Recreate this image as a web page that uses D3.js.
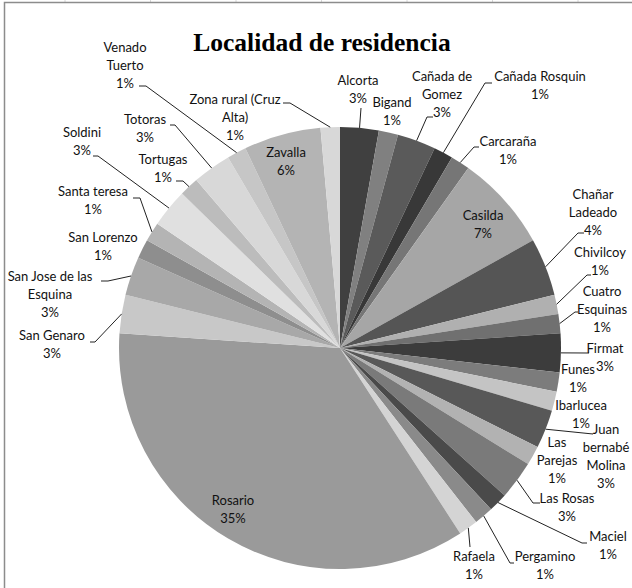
<!DOCTYPE html>
<html>
<head>
<meta charset="utf-8">
<script src="https://cdn.jsdelivr.net/npm/d3@7"></script>
<style>
  body { margin: 0; background: #fff; }
  svg { display: block; }
</style>
</head>
<body>
<svg id="chart"></svg>
<script>
// data
var localidades = ["Alcorta", "Bigand", "Cañada de Gomez", "Cañada Rosquin", "Carcaraña", "Casilda",
        "Chañar Ladeado", "Chivilcoy", "Cuatro Esquinas", "Firmat", "Funes", "Ibarlucea",
        "Juan bernabé Molina", "Las Parejas", "Las Rosas", "Maciel", "Pergamino", "Rafaela",
        "Rosario", "San Genaro", "San Jose de las Esquina", "San Lorenzo", "Santa teresa", "Soldini",
        "Tortugas", "Totoras", "Venado Tuerto", "Zavalla", "Zona rural (Cruz Alta)"];
var casos = [2, 1, 2, 1, 1, 5, 3, 1, 1, 2, 1, 1, 2, 1, 2, 1, 1, 1, 25, 2, 2, 1, 1, 2, 1, 2, 1, 4, 1];
var titulo = "Localidad de residencia";

// how excel wrapped each label
var lineas = [["Alcorta"], ["Bigand"], ["Cañada de", "Gomez"], ["Cañada Rosquin"], ["Carcaraña"], ["Casilda"],
        ["Chañar", "Ladeado"], ["Chivilcoy"], ["Cuatro", "Esquinas"], ["Firmat"], ["Funes"], ["Ibarlucea"],
        ["Juan", "bernabé", "Molina"], ["Las", "Parejas"], ["Las Rosas"], ["Maciel"], ["Pergamino"], ["Rafaela"],
        ["Rosario"], ["San Genaro"], ["San Jose de las", "Esquina"], ["San Lorenzo"], ["Santa teresa"], ["Soldini"],
        ["Tortugas"], ["Totoras"], ["Venado", "Tuerto"], ["Zavalla"], ["Zona rural (Cruz", "Alta)"]];

var grises = ["#404040", "#808080", "#5a5a5a", "#383838", "#767676", "#a6a6a6",
        "#555555", "#b0b0b0", "#707070", "#3c3c3c", "#7c7c7c", "#c4c4c4",
        "#585858", "#b2b2b2", "#7a7a7a", "#4a4a4a", "#8a8a8a", "#d4d4d4",
        "#9a9a9a", "#c8c8c8", "#a8a8a8", "#8e8e8e", "#b4b4b4", "#e0e0e0",
        "#bcbcbc", "#d8d8d8", "#c6c6c6", "#b4b4b4", "#d8d8d8"];

// label placement: text anchor (x, first baseline) and leader bends, picked by hand like in excel
var etiquetas = [
        {x: 358, y: 85, guia: [[361, 108]]},
        {x: 392, y: 107, guia: null},
        {x: 442, y: 81, guia: [[427, 117], [433, 117]]},
        {x: 540, y: 81, guia: [[485, 83], [492, 83]]},
        {x: 508, y: 146, guia: [[474, 147], [479, 147]]},
        {x: 483, y: 220, guia: null},
        {x: 593, y: 199, guia: [[578, 233], [584, 233]]},
        {x: 600, y: 257, guia: [[587, 275], [591, 275]]},
        {x: 602, y: 296, guia: [[575, 312], [578, 312]]},
        {x: 605, y: 353, guia: [[589, 353]]},
        {x: 578, y: 374, guia: null},
        {x: 581, y: 410, guia: null},
        {x: 606, y: 434, guia: [[593, 434]]},
        {x: 557, y: 447, guia: null},
        {x: 567, y: 503, guia: [[533, 503], [540, 503]]},
        {x: 608, y: 541, guia: [[582, 543], [587, 543]]},
        {x: 545, y: 561, guia: [[510, 563], [514, 563]]},
        {x: 474, y: 561, guia: [[470, 547]]},
        {x: 233, y: 505, guia: null},
        {x: 52, y: 340, guia: [[95, 342], [90, 342]]},
        {x: 50, y: 281, guia: [[108, 281], [101, 281]]},
        {x: 103, y: 242, guia: null},
        {x: 93, y: 196, guia: [[140, 198], [133, 198]]},
        {x: 82, y: 137, guia: [[98, 156], [93, 156]]},
        {x: 163, y: 164, guia: [[183, 181], [176, 181]]},
        {x: 145, y: 124, guia: [[175, 125], [170, 125]]},
        {x: 125, y: 52, guia: [[146, 86], [139, 86]]},
        {x: 286, y: 157, guia: null},
        {x: 235, y: 104, guia: [[290, 103], [283, 103]]}
];

var width = 632, height = 588;
var cx = 340, cy = 348, radio = 221;
var lineHeight = 18;

var svg = d3.select("#chart").attr("width", width).attr("height", height);

// excel chart frame and the sheet gridline stubs above it
svg.append("g").selectAll("line")
        .data(d3.range(65, 632, 85.5))
        .enter().append("line")
        .attr("x1", d => d).attr("x2", d => d).attr("y1", 0).attr("y2", 2)
        .attr("stroke", "#d8d8d8");
svg.append("rect")
        .attr("x", 4.5).attr("y", 2.5)
        .attr("width", width + 10).attr("height", height + 10)
        .attr("fill", "#fff").attr("stroke", "#8c8c8c").attr("stroke-width", 1.5);

var total = d3.sum(casos);
var datos = localidades.map((d, i) => ({nombre: d, valor: casos[i], i: i}));

var pie = d3.pie().value(d => d.valor).sort(null);
var arcs = pie(datos);
var arc = d3.arc().innerRadius(0).outerRadius(radio);
var borde = d3.arc().innerRadius(radio).outerRadius(radio);

var g = svg.append("g").attr("transform", "translate(" + cx + "," + cy + ")");
g.selectAll(".slice")
        .data(arcs)
        .enter().append("path")
        .attr("class", "slice")
        .attr("d", arc)
        .attr("fill", d => grises[d.index]);

// leader lines, from outer edge at mid angle to the label
var linea = d3.line();
svg.append("g").selectAll(".guia")
        .data(arcs.filter(d => etiquetas[d.index].guia))
        .enter().append("path")
        .attr("class", "guia")
        .attr("d", d => {
                let p = borde.centroid(d);
                let pts = [[p[0] + cx, p[1] + cy]].concat(etiquetas[d.index].guia);
                return linea(pts);
        })
        .attr("fill", "none").attr("stroke", "#222").attr("stroke-width", 1);

// labels: name lines + percent
var lab = svg.append("g").selectAll(".lab")
        .data(arcs)
        .enter().append("text")
        .attr("class", "lab")
        .attr("x", d => etiquetas[d.index].x)
        .attr("y", d => etiquetas[d.index].y)
        .attr("text-anchor", "middle")
        .attr("font-family", "Lato, 'Open Sans', sans-serif")
        .attr("font-size", 13)
        .attr("fill", "#111");
lab.each(function(d){
        let t = d3.select(this);
        let ls = lineas[d.index].concat([Math.round(d.data.valor / total * 100) + "%"]);
        ls.forEach((s, k) => {
                t.append("tspan")
                        .attr("x", etiquetas[d.index].x)
                        .attr("dy", k == 0 ? 0 : lineHeight)
                        .text(s);
        });
});

// title
svg.append("text")
        .attr("x", 322).attr("y", 51)
        .attr("text-anchor", "middle")
        .attr("font-family", "'Liberation Serif', 'Times New Roman', serif")
        .attr("font-weight", "bold")
        .attr("font-size", 25.5)
        .attr("fill", "#000")
        .text(titulo);
</script>
</body>
</html>
